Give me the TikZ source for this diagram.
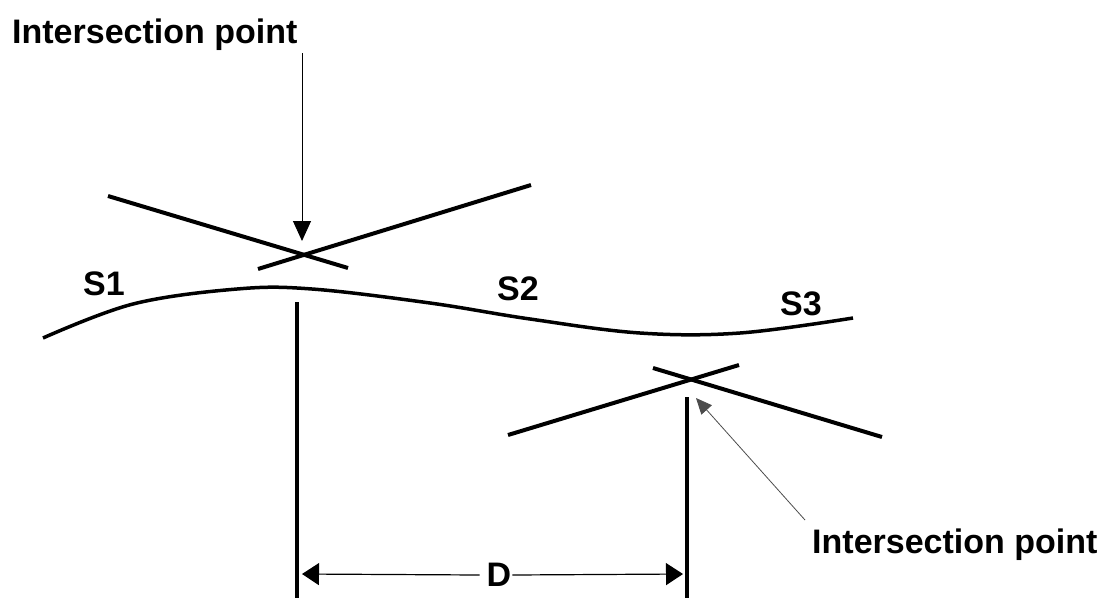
\documentclass[tikz,border=0pt]{standalone}
\usepackage{fontspec}
\setmainfont{Liberation Sans}
\usetikzlibrary{arrows.meta}
\begin{document}
\begin{tikzpicture}[x=1pt,y=-1pt,
  lbl/.style={inner sep=0pt,anchor=base west,font=\fontsize{34}{40}\selectfont\bfseries},
  thickline/.style={line width=4pt},
  curveline/.style={line width=3.5pt},
  leader/.style={line width=1pt,-{Triangle[length=20pt,width=18pt]}},
  leadersmall/.style={line width=0.8pt,draw=black!70,-{Triangle[length=16pt,width=14pt]}},
  dimarrow/.style={line width=1.2pt,-{Triangle[length=17pt,width=22pt]}}]
\useasboundingbox (0,0) rectangle (1105,598);
% labels
\node[lbl] (top) at (12,43) {Intersection point};
\node[lbl] (bot) at (812,553) {Intersection point};
\node[lbl] (s1) at (83,295) {S1};
\node[lbl] (s2) at (497,300) {S2};
\node[lbl] (s3) at (780,315) {S3};
\node[lbl,anchor=center] (d) at (499,575) {D};
% crosses
\draw[thickline] (108,196) -- (348,268);
\draw[thickline] (258,269) -- (531,185);
\draw[thickline] (508,435) -- (739,365);
\draw[thickline] (653,368) -- (882,437);
% profile curve
\draw[curveline] plot[smooth,tension=0.6] coordinates {(43,338) (133,304) (237,289) (312,289) (430,303) (530,319) (640,333) (740,333) (853,318)};
% vertical lines
\coordinate (v1top) at (297,302);
\coordinate (v1bot) at (297,598);
\coordinate (v2top) at (687,397);
\coordinate (v2bot) at (687,598);
\draw[thickline] (v1top) -- (v1bot);
\draw[thickline] (v2top) -- (v2bot);
% leader arrows
\coordinate (a1s) at (302,53);
\coordinate (a1t) at (302,241);
\draw[leader] (a1s) -- (a1t);
\coordinate (a2s) at (805,520);
\coordinate (a2t) at (696,398);
\draw[leadersmall] (a2s) -- (a2t);
% dimension
\coordinate (dl) at (302,574);
\coordinate (dr) at (683,574);
\draw[dimarrow] (d.west) ++(-7,0) -- (dl);
\draw[dimarrow] (d.east) ++(1,0) -- (dr);
\end{tikzpicture}
\end{document}
